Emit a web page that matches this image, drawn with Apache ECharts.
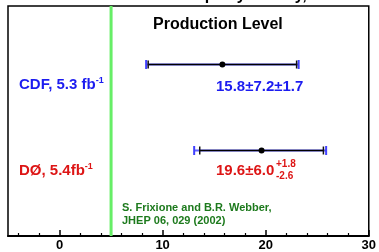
<!DOCTYPE html>
<html>
<head>
<meta charset="utf-8">
<script src="https://cdn.jsdelivr.net/npm/echarts@6/dist/echarts.min.js"></script>
<style>
  html, body {margin: 0; padding: 0; background: #fff;}
  #chart {width: 379px; height: 252px;}
</style>
</head>
<body>
<div id="chart"></div>
<script>
const experiments = ['CDF', 'DØ'];
const lumi = [5.3, 5.4];
const rowPos = [6, 3];
const central = [15.8, 19.6];
const statErr = [7.2, 6.0];
const systUp = [1.7, 1.8];
const systDown = [1.7, 2.6];
const prediction = 5;
const majorTicks = [0, 10, 20, 30];
const minorTicks = [-4, -2, 2, 4, 6, 8, 12, 14, 16, 18, 22, 24, 26, 28];

const expColors = ['#1c1cf0', '#dd1515'];
const font = 'Liberation Sans, Arial, sans-serif';

const barData = central.map((v, i) => [
  v, rowPos[i],
  v - Math.sqrt(statErr[i] ** 2 + systDown[i] ** 2),
  v + Math.sqrt(statErr[i] ** 2 + systUp[i] ** 2),
  v - statErr[i], v + statErr[i]
]);

const myChart = echarts.init(document.getElementById('chart'));

function errBar(params, api) {
  const y = Math.round(api.coord([0, api.value(1)])[1]) + 0.5;
  const c = api.coord([api.value(0), api.value(1)]);
  const lo = api.coord([api.value(2), api.value(1)]);
  const hi = api.coord([api.value(3), api.value(1)]);
  const slo = api.coord([api.value(4), api.value(1)]);
  const shi = api.coord([api.value(5), api.value(1)]);
  const blue = {stroke: '#4040ff', lineWidth: 2};
  const black = {stroke: '#111', lineWidth: 1.5};
  return {
    type: 'group',
    children: [
      {type: 'line', shape: {x1: lo[0], y1: y, x2: hi[0], y2: y}, style: {stroke: '#6060ff', lineWidth: 2.2}},
      {type: 'line', shape: {x1: lo[0], y1: y - 4.5, x2: lo[0], y2: y + 4.5}, style: blue},
      {type: 'line', shape: {x1: hi[0], y1: y - 4.5, x2: hi[0], y2: y + 4.5}, style: blue},
      {type: 'line', shape: {x1: slo[0], y1: y, x2: shi[0], y2: y}, style: {stroke: '#000', lineWidth: 1.4}},
      {type: 'line', shape: {x1: slo[0], y1: y - 4, x2: slo[0], y2: y + 4}, style: black},
      {type: 'line', shape: {x1: shi[0], y1: y - 4, x2: shi[0], y2: y + 4}, style: black},
      {type: 'circle', shape: {cx: c[0], cy: y, r: 3}, style: {fill: '#000'}}
    ]
  };
}

const labelRich = {
  m: {fontSize: 15, fontWeight: 'bold', fontFamily: font, lineHeight: 18},
  sup: {fontSize: 9, fontWeight: 'bold', fontFamily: font, lineHeight: 9, verticalAlign: 'top'}
};

function richText(color) {
  const r = {};
  Object.keys(labelRich).forEach(k => { r[k] = Object.assign({fill: color}, labelRich[k]); });
  return r;
}

myChart.setOption({
  animation: false,
  grid: {left: 8, right: 7, top: 6, bottom: 16, show: true, borderColor: '#000', borderWidth: 1.5},
  xAxis: [{
    type: 'value', min: -5, max: 30,
    splitLine: {show: false},
    axisLine: {show: true, onZero: false, lineStyle: {color: '#000', width: 2}},
    axisTick: {show: true, inside: true, length: 6, customValues: majorTicks, lineStyle: {color: '#000', width: 1.5}},
    axisLabel: {customValues: majorTicks, color: '#000', fontWeight: 'bold', fontSize: 13, fontFamily: font, margin: 3}
  }, {
    type: 'value', min: -5, max: 30, position: 'bottom',
    splitLine: {show: false},
    axisLine: {show: false},
    axisTick: {show: true, inside: true, length: 3, customValues: minorTicks, lineStyle: {color: '#000', width: 1.2}},
    axisLabel: {show: false}
  }],
  yAxis: {type: 'value', min: 0, max: 8, show: false},
  graphic: [
    {type: 'text', left: 43, top: -12, style: {text: 'Forward-backward top asymmetry, %', fontSize: 16, fontWeight: 'bold', fontFamily: font, fill: '#000'}},
    {type: 'text', left: 153, top: 17, style: {text: 'Production Level', fontSize: 16, fontWeight: 'bold', fontFamily: font, fill: '#000'}},
    {type: 'text', left: 19, top: 76, style: {text: `{m|${experiments[0]}, ${lumi[0]} fb}{sup|-1}`, rich: richText(expColors[0])}},
    {type: 'text', left: 216, top: 79, style: {text: `${central[0]}±${statErr[0]}±${systUp[0]}`, fontSize: 15, fontWeight: 'bold', fontFamily: font, fill: expColors[0]}},
    {type: 'text', left: 19, top: 162, style: {text: `{m|${experiments[1]}, ${lumi[1]}fb}{sup|-1}`, rich: richText(expColors[1])}},
    {type: 'text', left: 216, top: 163, style: {text: `${central[1]}±${statErr[1].toFixed(1)}`, fontSize: 15, fontWeight: 'bold', fontFamily: font, fill: expColors[1]}},
    {type: 'text', left: 276, top: 159, style: {text: '+' + systUp[1], fontSize: 10, fontWeight: 'bold', fontFamily: font, fill: expColors[1]}},
    {type: 'text', left: 276, top: 171, style: {text: '-' + systDown[1], fontSize: 10, fontWeight: 'bold', fontFamily: font, fill: expColors[1]}},
    {type: 'text', left: 122, top: 201, style: {text: 'S. Frixione and B.R. Webber,\nJHEP 06, 029 (2002)', fontSize: 11, lineHeight: 13, fontWeight: 'bold', fontFamily: font, fill: '#1d7a1d'}}
  ],
  series: [{
    type: 'line',
    data: [[prediction, 0], [prediction, 8]],
    symbol: 'none',
    lineStyle: {color: '#66ee66', width: 3},
    z: 1
  }, {
    type: 'custom',
    data: barData,
    renderItem: errBar,
    clip: false,
    z: 3
  }]
});
</script>
</body>
</html>
